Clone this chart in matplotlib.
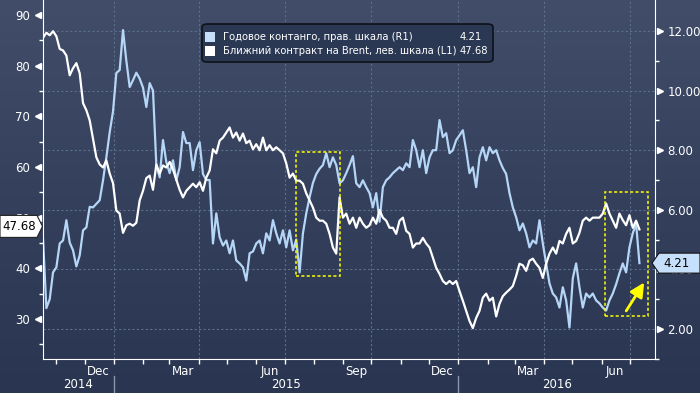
import numpy as np
import pandas as pd
import matplotlib
matplotlib.use("Agg")
import matplotlib.pyplot as plt
import matplotlib.dates as mdates
from matplotlib.colors import LinearSegmentedColormap
from matplotlib.patches import Polygon, FancyBboxPatch, Rectangle
from matplotlib.transforms import blended_transform_factory

# --- data (one value about every 3.5 days) ---
start_date = "2014-10-18"
end_date = "2016-07-11"

brent = [
    85.5, 86.5, 86.0, 86.8, 85.8, 83.3, 83.0, 82.0, 78.1, 79.5,
    80.5, 78.5, 72.6, 71.2, 69.2, 65.5, 61.9, 60.5, 59.9, 61.3,
    58.7, 56.8, 51.4, 50.8, 47.0, 48.5, 48.8, 48.4, 49.0, 53.4,
    55.3, 57.8, 58.3,
    55.5, 60.5, 58.7, 60.3, 59.9, 61.0, 59.5, 57.5, 55.5, 54.0,
    55.3, 56.0, 56.7, 56.0, 57.0, 55.3, 57.9, 59.3, 63.5, 62.7,
    65.2, 65.8, 66.8, 67.8, 65.8, 66.8, 65.2, 66.6, 64.7, 65.2,
    63.5, 64.5, 63.3,
    65.8, 63.3, 64.3, 63.3, 63.9, 63.3, 62.7, 60.7, 57.9, 58.7,
    57.3, 57.3, 56.7, 54.8, 53.4, 52.0, 50.0, 49.4, 49.4, 48.8,
    46.8, 44.1, 42.9, 54.0, 50.0, 50.8, 48.8, 50.0, 48.0, 50.0,
    48.8, 48.0, 48.5,
    50.0, 48.8, 51.5, 50.0, 49.4, 48.0, 48.0, 46.8, 49.4, 50.0,
    47.4, 46.8, 44.1, 44.9, 44.9, 46.0, 44.9, 44.1, 42.1, 40.1,
    38.9, 37.5, 36.9, 37.5, 36.9, 37.5, 35.5, 33.6, 31.6, 29.6,
    28.2, 30.2, 31.6,
    34.2, 35.0, 33.6, 34.2, 30.5, 33.0, 34.5, 35.2, 35.8, 36.5,
    38.5, 40.9, 40.6, 39.5, 41.5, 41.9, 40.9, 40.1, 38.1, 40.9,
    42.9, 44.1, 42.9, 45.4, 44.9, 46.8, 48.0, 44.9, 45.4, 47.0,
    49.4, 50.0, 49.4, 50.0, 50.0, 50.0, 50.8, 52.8, 50.8, 49.4,
    48.0, 50.8, 49.5, 48.5, 50.5, 48.0, 49.4, 47.68,
]

contango = [
    5.0, 2.7, 3.0, 3.9, 4.07, 4.87, 4.97, 5.65, 4.9, 4.64,
    4.1, 4.47, 5.31, 5.41, 6.1, 6.08, 6.2, 6.32, 6.99, 7.76,
    8.6, 9.3, 10.59, 10.69, 12.03, 11.0, 10.12, 10.35, 10.6, 10.4,
    10.1, 9.45, 10.25,
    10.0, 7.5, 7.09, 8.34, 7.6, 7.23, 7.66, 6.99, 7.43, 8.61,
    8.24, 8.24, 7.33, 8.0, 8.27, 7.2, 7.0, 7.0, 4.87, 5.88,
    5.08, 4.8, 4.97, 4.54, 4.97, 4.3, 4.2, 4.07, 3.63, 4.54,
    4.6, 4.87, 4.97,
    4.54, 5.21, 4.97, 5.65, 5.21, 4.87, 5.31, 4.74, 5.31, 4.64,
    5.0, 3.9, 5.21, 5.88, 6.42, 6.9, 7.2, 7.38, 7.5, 7.9,
    7.43, 7.76, 7.5, 6.89, 6.99, 7.23, 7.5, 7.8, 6.89, 6.76,
    6.99, 6.76, 6.56,
    6.08, 6.56, 5.6, 6.76, 6.99, 7.09, 7.23, 7.33, 7.43, 7.33,
    7.56, 7.43, 8.34, 8.0, 7.43, 8.0, 7.23, 7.76, 8.0, 8.0,
    9.01, 8.44, 8.57, 7.90, 8.0, 8.34, 8.5, 8.67, 8.0, 7.23,
    7.43, 6.76, 7.76,
    8.10, 7.66, 8.10, 7.90, 8.0, 7.66, 7.4, 7.2, 6.56, 6.08,
    5.75, 5.31, 5.54, 5.21, 4.74, 4.97, 4.87, 5.65, 4.87, 4.20,
    3.53, 3.19, 3.06, 2.72, 3.40, 2.96, 2.05, 3.7, 4.2, 3.4,
    2.72, 3.19, 3.06, 3.19, 2.96, 2.86, 2.72, 2.62, 2.96, 3.19,
    3.5, 3.87, 4.2, 3.9, 4.74, 5.21, 5.54, 4.21,
]

contango_label = "Годовое контанго, прав. шкала (R1)"
brent_label = "Ближний контракт на Brent, лев. шкала (L1)"
left_ticks = [30, 40, 50, 60, 70, 80, 90]
right_ticks = [2, 4, 6, 8, 10, 12]
year_labels = ["2014", "2015", "2016"]

# dotted yellow highlight boxes (dates, Brent scale) and the arrow
highlight_boxes = [
    ("2015-07-13", "2015-08-29", 38.5, 62.9),
    ("2016-06-05", "2016-07-20", 30.6, 55.0),
]
arrow_from = ("2016-06-27", 31.6)
arrow_to = ("2016-07-16", 37.2)

W, H = 700, 393
BLUE = "#b5d6f7"
GRID = "#5b6f8a"

plt.rcParams["font.family"] = ["DejaVu Sans"]

fig = plt.figure(figsize=(W / 100, H / 100), dpi=100)

# background gradient
bg = fig.add_axes([0, 0, 1, 1])
bg.set_zorder(-5)
cmap = LinearSegmentedColormap.from_list("bg", ["#414d69", "#34405c", "#2a3651"])
bg.imshow(np.linspace(0, 1, 256).reshape(-1, 1), aspect="auto", cmap=cmap,
          extent=[0, 1, 0, 1])
bg.axis("off")

ax = fig.add_axes([42.5 / W, 1 - 359 / H, 612.5 / W, 359 / H])
ax2 = ax.twinx()
ax.set_zorder(2)
ax2.set_zorder(1)
ax.patch.set_visible(False)
ax2.patch.set_visible(False)

dates = pd.date_range(start_date, end_date, periods=len(brent))

ax2.plot(dates, contango, color=BLUE, lw=1.6, zorder=3)
ax.plot(dates, brent, color="white", lw=1.6, zorder=3)

x0 = pd.Timestamp("2014-10-17 10:00")
x1 = pd.Timestamp("2016-07-27 12:00")
ax.set_xlim(x0, x1)
ax.set_ylim(22.1, 92.96)
ax2.set_ylim(0.993, 13.04)

# spines
for s in ["top", "right"]:
    ax.spines[s].set_visible(False)
for s in ["top", "left", "bottom"]:
    ax2.spines[s].set_visible(False)
ax.spines["left"].set_color("white")
ax.spines["bottom"].set_color("white")
ax2.spines["right"].set_color("white")

# y ticks
ax.set_yticks(left_ticks)
ax.set_yticks(np.arange(25, 90, 10), minor=True)
ax.tick_params(axis="y", which="major", length=0, pad=9, labelcolor="white", labelsize=8.5)
ax.tick_params(axis="y", which="minor", length=3, color="white", width=1)
ax2.set_yticks(right_ticks)
ax2.set_yticks(np.arange(1, 13, 2), minor=True)
ax2.yaxis.set_major_formatter(plt.FormatStrFormatter("%.2f"))
ax2.tick_params(axis="y", which="major", length=0, pad=9, labelcolor="white", labelsize=8.5)
ax2.tick_params(axis="y", which="minor", length=3, color="white", width=1)

tl = blended_transform_factory(ax.transAxes, ax.transData)
ax.plot([-0.0075] * len(left_ticks), left_ticks, ls="none", marker="<", ms=5,
        color="white", transform=tl, clip_on=False)
tr = blended_transform_factory(ax2.transAxes, ax2.transData)
ax2.plot([1.0075] * len(right_ticks), right_ticks, ls="none", marker=">", ms=5,
         color="white", transform=tr, clip_on=False)

# grid
ax2.grid(axis="y", color=GRID, ls=(0, (2, 2)), lw=0.8)
for q in pd.date_range("2015-01-01", "2016-07-01", freq="QS"):
    ax2.axvline(q, color=GRID, ls=(0, (2, 2)), lw=0.8, zorder=1)

# x ticks
ax.xaxis.set_major_locator(mdates.MonthLocator(bymonth=[3, 6, 9, 12], bymonthday=15))
ax.xaxis.set_major_formatter(mdates.DateFormatter("%b"))
ax.xaxis.set_minor_locator(mdates.MonthLocator())
ax.tick_params(axis="x", which="major", length=0, pad=4, labelcolor="white", labelsize=8.5)
ax.tick_params(axis="x", which="minor", length=3.5, color="white", width=1)

# years and separators
tx = blended_transform_factory(ax.transData, ax.transAxes)
edges = [x0, pd.Timestamp("2015-01-01"), pd.Timestamp("2016-01-01"), x1]
for i, yr in enumerate(year_labels):
    mid = edges[i] + (edges[i + 1] - edges[i]) / 2
    ax.text(mid, -0.0724, yr, transform=tx, ha="center", va="center",
            color="white", fontsize=8.5)
for e in edges[1:3]:
    ax.plot([e, e], [-0.047, -0.1], transform=tx, color="#8a96aa", lw=1, clip_on=False)

# highlight boxes and arrow
for d0, d1, lo, hi in highlight_boxes:
    a = mdates.date2num(pd.Timestamp(d0))
    b = mdates.date2num(pd.Timestamp(d1))
    ax.add_patch(Rectangle((a, lo), b - a, hi - lo, fill=False, edgecolor="#ffff00",
                           ls=(0, (2, 1.5)), lw=1.1, zorder=4))
ax.annotate("", xy=(mdates.date2num(pd.Timestamp(arrow_to[0])), arrow_to[1]),
            xytext=(mdates.date2num(pd.Timestamp(arrow_from[0])), arrow_from[1]),
            arrowprops=dict(arrowstyle="-|>,head_length=0.7,head_width=0.35",
                            color="#ffff00", lw=2, mutation_scale=12,
                            shrinkA=0, shrinkB=0), zorder=5)

# legend
def px(x, y):
    return x / W, 1 - y / H

fig.patches.append(FancyBboxPatch(px(202, 62), 291 / W, 38 / H,
                                  boxstyle="round,pad=0,rounding_size=0.008",
                                  transform=fig.transFigure, facecolor="#2b3853",
                                  edgecolor="#0d1118", lw=1.2, zorder=10))
fig.patches.append(Rectangle(px(205, 41.5), 10 / W, 9.5 / H, transform=fig.transFigure,
                             facecolor="#c6defa", edgecolor="none", zorder=11))
fig.patches.append(Rectangle(px(205, 56), 10 / W, 9.5 / H, transform=fig.transFigure,
                             facecolor="white", edgecolor="none", zorder=11))
fig.text(*px(223, 36.5), contango_label, color="white", fontsize=7.2, va="center", zorder=11)
fig.text(*px(223, 51), brent_label, color="white", fontsize=7.2, va="center", zorder=11)
fig.text(*px(460, 36.5), f"{contango[-1]:.2f}", color="white", fontsize=7.2, va="center", zorder=11)
fig.text(*px(460, 51), f"{brent[-1]:.2f}", color="white", fontsize=7.2, va="center", zorder=11)

# last-value tags on the axes
yb = ax.transData.transform((0, brent[-1]))[1] + 3
yc = ax2.transData.transform((0, contango[-1]))[1]
pts = [(0, yb - 11), (37, yb - 11), (42.5, yb), (37, yb + 11), (0, yb + 11)]
fig.patches.append(Polygon([(x / W, y / H) for x, y in pts], closed=True,
                           transform=fig.transFigure, facecolor="white",
                           edgecolor="#222222", lw=0.8, zorder=10))
fig.text(19 / W, yb / H, f"{brent[-1]:.2f}", color="black", fontsize=8.5,
         ha="center", va="center", zorder=11)
pts = [(652, yc), (659, yc - 10), (700, yc - 10), (700, yc + 10), (659, yc + 10)]
fig.patches.append(Polygon([(x / W, y / H) for x, y in pts], closed=True,
                           transform=fig.transFigure, facecolor="#c6e0fb",
                           edgecolor="#111111", lw=0.8, zorder=10))
fig.text(677 / W, yc / H, f"{contango[-1]:.2f}", color="black", fontsize=8.5,
         ha="center", va="center", zorder=11)

fig.savefig("out.png", dpi=100)
